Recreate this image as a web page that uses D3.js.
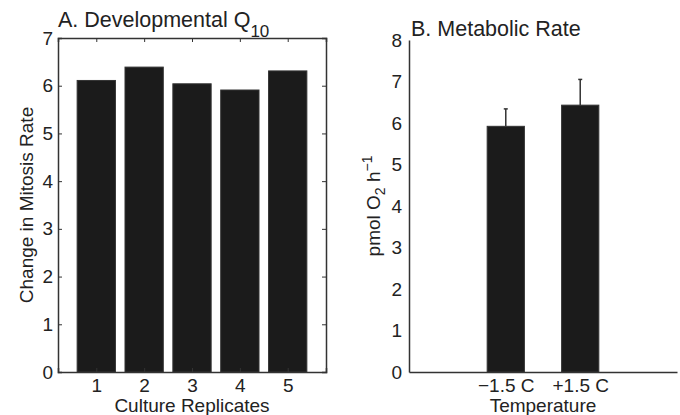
<!DOCTYPE html>
<html>
<head>
<meta charset="utf-8">
<script src="https://cdn.jsdelivr.net/npm/d3@7"></script>
<style>
  body { margin: 0; background: #fff; }
  text { font-family: "Liberation Sans", Arial, sans-serif; fill: #222; }
</style>
</head>
<body>
<svg id="chart" width="680" height="415"></svg>
<script>
// panel A: developmental Q10 per culture replicate
var replicates = [1, 2, 3, 4, 5];
var q10Values = [6.11, 6.39, 6.04, 5.91, 6.31];
var yTicksA = [0, 1, 2, 3, 4, 5, 6, 7];

// panel B: metabolic rate at two temperatures
var temps = ['\u22121.5 C', '+1.5 C'];
var rateValues = [5.92, 6.43];
var rateErrors = [0.42, 0.62];
var yTicksB = [0, 1, 2, 3, 4, 5, 6, 7, 8];

var svg = d3.select('#chart');
var ink = '#1b1b1b';
var fontSize = 19;
var titleSize = 21.5;

// ---- panel A ----
var a = { left: 58, right: 326, top: 38, bottom: 372 };
var xA = d3.scaleLinear().domain([0.2, 5.8]).range([a.left, a.right]);
var yA = d3.scaleLinear().domain([0, 7]).range([a.bottom, a.top]);
var gA = svg.append('g');

gA.selectAll('rect.bar')
    .data(q10Values)
    .enter().append('rect')
    .attr('class', 'bar')
    .attr('x', function(d, i) { return xA(replicates[i] - 0.4); })
    .attr('width', xA(0.8) - xA(0))
    .attr('y', function(d) { return yA(d); })
    .attr('height', function(d) { return yA(0) - yA(d); })
    .attr('fill', ink)
    .attr('stroke', '#333')
    .attr('stroke-width', 1);

gA.append('g')
    .attr('transform', 'translate(' + a.left + ',0)')
    .call(d3.axisLeft(yA).tickValues(yTicksA).tickFormat(d3.format('d'))
        .tickSize(-4).tickPadding(5));
gA.append('g')
    .attr('transform', 'translate(' + a.right + ',0)')
    .call(d3.axisRight(yA).tickValues(yTicksA).tickSize(-4).tickFormat(''));
gA.append('g')
    .attr('transform', 'translate(0,' + a.bottom + ')')
    .call(d3.axisBottom(xA).tickValues(replicates).tickFormat(d3.format('d'))
        .tickSize(-4).tickPadding(7));
gA.append('g')
    .attr('transform', 'translate(0,' + a.top + ')')
    .call(d3.axisTop(xA).tickValues(replicates).tickSize(-4).tickFormat(''));

gA.selectAll('.domain').attr('stroke', '#333').attr('stroke-width', 1.5);
gA.selectAll('.tick line').attr('stroke', '#333');
gA.selectAll('.tick text').attr('font-size', fontSize).attr('fill', '#222');

gA.append('text')
    .attr('x', a.left).attr('y', 27)
    .attr('font-size', titleSize)
    .text('A. Developmental Q')
    .append('tspan')
    .attr('dy', 10).attr('font-size', 17)
    .text('10');

gA.append('text')
    .attr('x', (a.left + a.right) / 2).attr('y', 412)
    .attr('text-anchor', 'middle')
    .attr('font-size', fontSize)
    .text('Culture Replicates');

gA.append('text')
    .attr('transform', 'translate(33,' + (a.top + a.bottom) / 2 + ') rotate(-90)')
    .attr('text-anchor', 'middle')
    .attr('font-size', fontSize)
    .text('Change in Mitosis Rate');

// ---- panel B ----
var b = { left: 409, right: 677, top: 40, bottom: 372 };
var xB = d3.scaleLinear().domain([-0.3, 3.3]).range([b.left, b.right]);
var yB = d3.scaleLinear().domain([0, 8]).range([b.bottom, b.top]);
var gB = svg.append('g');

gB.selectAll('line.err')
    .data(rateValues)
    .enter().append('line')
    .attr('class', 'err')
    .attr('x1', function(d, i) { return xB(i + 1); })
    .attr('x2', function(d, i) { return xB(i + 1); })
    .attr('y1', function(d) { return yB(d); })
    .attr('y2', function(d, i) { return yB(d + rateErrors[i]); })
    .attr('stroke', '#333')
    .attr('stroke-width', 1.5);

gB.selectAll('line.cap')
    .data(rateValues)
    .enter().append('line')
    .attr('class', 'cap')
    .attr('x1', function(d, i) { return xB(i + 1) - 2; })
    .attr('x2', function(d, i) { return xB(i + 1) + 2; })
    .attr('y1', function(d, i) { return yB(d + rateErrors[i]); })
    .attr('y2', function(d, i) { return yB(d + rateErrors[i]); })
    .attr('stroke', '#333')
    .attr('stroke-width', 1.5);

gB.selectAll('rect.bar')
    .data(rateValues)
    .enter().append('rect')
    .attr('class', 'bar')
    .attr('x', function(d, i) { return xB(i + 1 - 0.25); })
    .attr('width', xB(0.5) - xB(0))
    .attr('y', function(d) { return yB(d); })
    .attr('height', function(d) { return yB(0) - yB(d); })
    .attr('fill', ink)
    .attr('stroke', '#333')
    .attr('stroke-width', 1);

gB.append('g')
    .attr('transform', 'translate(' + b.left + ',0)')
    .call(d3.axisLeft(yB).tickValues(yTicksB).tickFormat(d3.format('d'))
        .tickSize(0).tickPadding(7));
gB.append('g')
    .attr('transform', 'translate(0,' + b.bottom + ')')
    .call(d3.axisBottom(xB).tickValues([1, 2])
        .tickFormat(function(d) { return temps[d - 1]; })
        .tickSize(0).tickPadding(7));

gB.selectAll('.domain').attr('stroke', '#333').attr('stroke-width', 1.5);
gB.selectAll('.tick text').attr('font-size', fontSize).attr('fill', '#222');

gB.append('text')
    .attr('x', b.left + 2).attr('y', 36)
    .attr('font-size', titleSize)
    .text('B. Metabolic Rate');

gB.append('text')
    .attr('x', (xB(1) + xB(2)) / 2).attr('y', 412)
    .attr('text-anchor', 'middle')
    .attr('font-size', fontSize)
    .text('Temperature');

var yl = gB.append('text')
    .attr('transform', 'translate(380,206) rotate(-90)')
    .attr('text-anchor', 'middle')
    .attr('font-size', fontSize);
yl.append('tspan').text('pmol O');
yl.append('tspan').attr('dy', 5).attr('font-size', 14).text('2');
yl.append('tspan').attr('dy', -5).text(' h');
yl.append('tspan').attr('dy', -8).attr('font-size', 14).text('\u22121');
</script>
</body>
</html>
